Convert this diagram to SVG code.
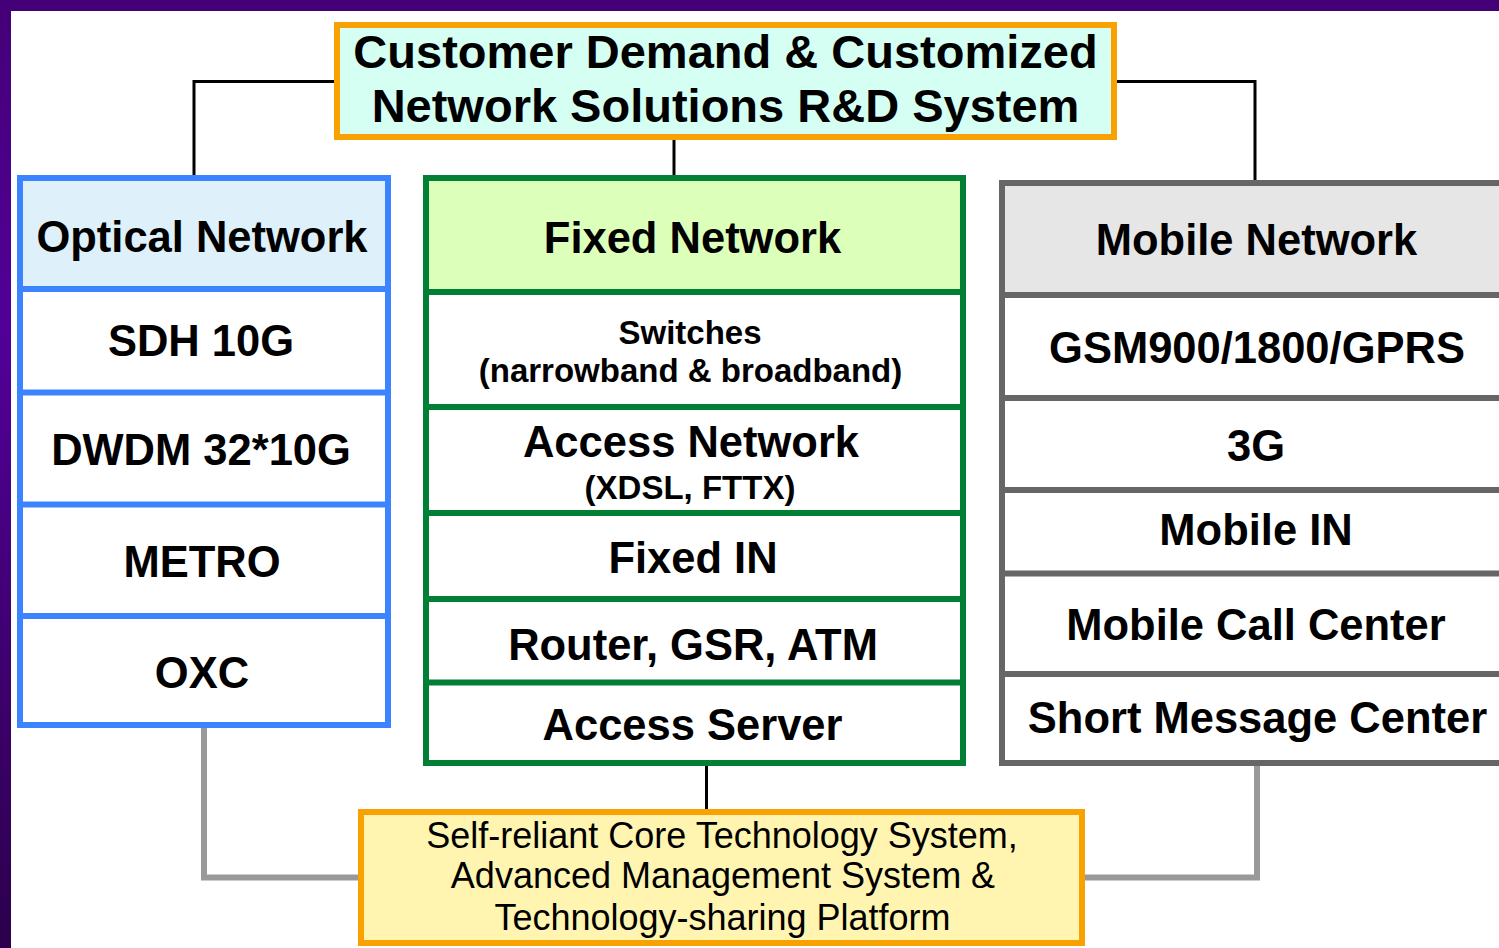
<svg xmlns="http://www.w3.org/2000/svg" width="1499" height="948" viewBox="0 0 1499 948">
  <defs>
    <linearGradient id="purple" x1="0" y1="0" x2="0" y2="1">
      <stop offset="0" stop-color="#440077"/>
      <stop offset="0.35" stop-color="#520098"/>
      <stop offset="1" stop-color="#2C004C"/>
    </linearGradient>
  </defs>
  <style>
    .t { font-family: "Liberation Sans", Arial, sans-serif; font-weight: bold; font-size: 43.5px; fill: #000; text-anchor: middle; }
    .s { font-family: "Liberation Sans", Arial, sans-serif; font-weight: bold; font-size: 33px; fill: #000; text-anchor: middle; }
    .r { font-family: "Liberation Sans", Arial, sans-serif; font-weight: normal; font-size: 36px; fill: #000; text-anchor: middle; }
    .big { font-family: "Liberation Sans", Arial, sans-serif; font-weight: bold; font-size: 47px; fill: #000; text-anchor: middle; }
    .opt { stroke: #3C83FF; stroke-width: 6; }
    .fix { stroke: #007F35; stroke-width: 6; }
    .mob { stroke: #666666; stroke-width: 6; }
    .org { stroke: #F9A100; stroke-width: 6; }
    .blk { fill: none; stroke: #000; stroke-width: 3; }
    .gry { fill: none; stroke: #999999; stroke-width: 6; }
  </style>

  <!-- background -->
  <rect x="0" y="0" width="1499" height="948" fill="url(#purple)"/>
  <rect x="11" y="11" width="1488" height="937" fill="#FFFFFF"/>

  <!-- connectors -->
  <g id="connectors">
    <path class="blk" d="M334,81.5 H194 V176"/>
    <path class="blk" d="M1117,81.5 H1255 V180"/>
    <path class="blk" d="M674,140 V175"/>
    <path class="blk" d="M706.5,766 V809"/>
    <path class="gry" d="M204,728 V877.5 H358"/>
    <path class="gry" d="M1257,766 V877.5 H1085"/>
  </g>

  <!-- top node -->
  <g id="customer-demand">
    <rect x="337" y="25" width="777" height="112" fill="#D4FFF2" class="org"/>
    <text class="big" x="725.5" y="68">Customer Demand &amp; Customized</text>
    <text class="big" x="725.5" y="122">Network Solutions R&amp;D System</text>
  </g>

  <!-- Optical Network -->
  <g id="optical-network">
    <rect x="20" y="178" width="368" height="547" fill="#FFFFFF" class="opt"/>
    <rect x="23" y="181" width="362" height="105" fill="#DEF0FA"/>
    <line x1="20" y1="289" x2="388" y2="289" class="opt"/>
    <line x1="20" y1="392.5" x2="388" y2="392.5" class="opt"/>
    <line x1="20" y1="504.5" x2="388" y2="504.5" class="opt"/>
    <line x1="20" y1="616" x2="388" y2="616" class="opt"/>
    <text class="t" x="202" y="252">Optical Network</text>
    <text class="t" x="201" y="356">SDH 10G</text>
    <text class="t" x="201" y="465">DWDM 32*10G</text>
    <text class="t" x="202" y="577">METRO</text>
    <text class="t" x="202" y="688">OXC</text>
  </g>

  <!-- Fixed Network -->
  <g id="fixed-network">
    <rect x="426" y="178" width="537" height="585" fill="#FFFFFF" class="fix"/>
    <rect x="429" y="181" width="531" height="108" fill="#DCFFBA"/>
    <line x1="426" y1="292" x2="963" y2="292" class="fix"/>
    <line x1="426" y1="407" x2="963" y2="407" class="fix"/>
    <line x1="426" y1="513" x2="963" y2="513" class="fix"/>
    <line x1="426" y1="599" x2="963" y2="599" class="fix"/>
    <line x1="426" y1="682.5" x2="963" y2="682.5" class="fix"/>
    <text class="t" x="692.5" y="253">Fixed Network</text>
    <text class="s" x="690" y="344">Switches</text>
    <text class="s" x="690.5" y="382">(narrowband &amp; broadband)</text>
    <text class="t" x="691" y="457">Access Network</text>
    <text class="s" x="690" y="499">(XDSL, FTTX)</text>
    <text class="t" x="693" y="573">Fixed IN</text>
    <text class="t" x="693" y="660">Router, GSR, ATM</text>
    <text class="t" x="692.5" y="740">Access Server</text>
  </g>

  <!-- Mobile Network -->
  <g id="mobile-network">
    <rect x="1002" y="183" width="600" height="580" fill="#FFFFFF" class="mob"/>
    <rect x="1005" y="186" width="597" height="106" fill="#E6E6E6"/>
    <line x1="1002" y1="295" x2="1502" y2="295" class="mob"/>
    <line x1="1002" y1="398" x2="1502" y2="398" class="mob"/>
    <line x1="1002" y1="490" x2="1502" y2="490" class="mob"/>
    <line x1="1002" y1="573.5" x2="1502" y2="573.5" class="mob"/>
    <line x1="1002" y1="674" x2="1502" y2="674" class="mob"/>
    <text class="t" x="1256.5" y="255">Mobile Network</text>
    <text class="t" x="1257" y="363">GSM900/1800/GPRS</text>
    <text class="t" x="1256" y="461">3G</text>
    <text class="t" x="1256" y="545">Mobile IN</text>
    <text class="t" x="1256" y="640">Mobile Call Center</text>
    <text class="t" x="1257.5" y="733">Short Message Center</text>
  </g>

  <!-- bottom node -->
  <g id="core-technology">
    <rect x="361" y="812" width="721" height="131" fill="#FFF5B0" class="org"/>
    <text class="r" x="722" y="848">Self-reliant Core Technology System,</text>
    <text class="r" x="723" y="888">Advanced Management System &amp;</text>
    <text class="r" x="722.5" y="930">Technology-sharing Platform</text>
  </g>
</svg>
